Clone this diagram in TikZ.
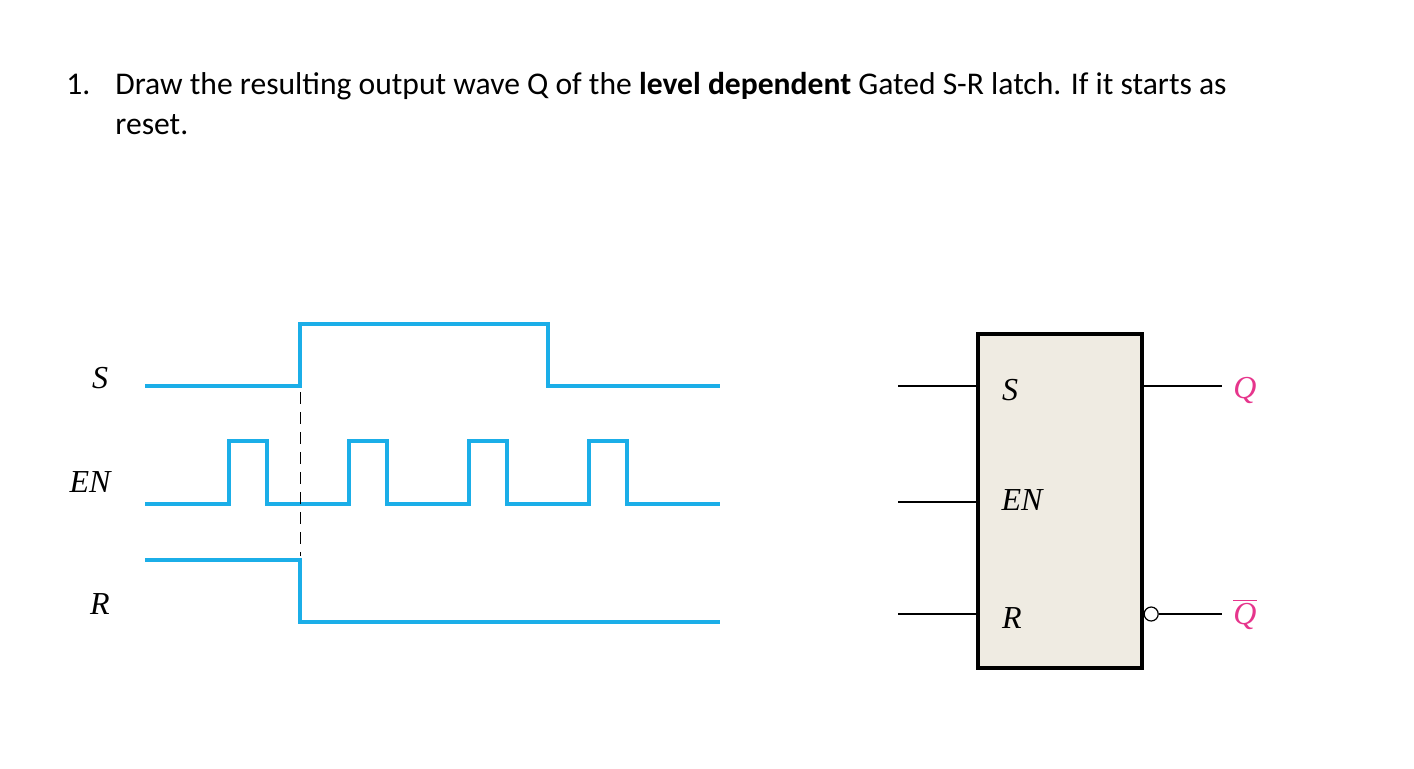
\documentclass[tikz,border=0pt]{standalone}
\usepackage{fontspec}
\setmainfont{Carlito}
\newfontfamily\serifit{Liberation Serif}
\definecolor{wave}{HTML}{1BAEE8}
\definecolor{boxfill}{HTML}{EFEBE2}
\definecolor{qmag}{HTML}{E6358C}
\begin{document}
\begin{tikzpicture}[x=0.5pt,y=-0.5pt,
  wv/.style={wave,line width=1.6pt},
  lbl/.style={font=\serifit\itshape\fontsize{16}{16}\selectfont},
  pin/.style={line width=0.6pt},
  qlbl/.style={font=\serifit\itshape\fontsize{16}{16}\selectfont,text=qmag}]
\useasboundingbox (0,0) rectangle (1414,768);
\node[anchor=base west,font=\fontsize{15.8}{15.8}\selectfont,inner sep=0] (num) at (66,94) {1.};
\node[anchor=base west,font=\fontsize{15.8}{15.8}\selectfont,inner sep=0] (t1) at (115,94) {Draw the resulting output wave Q of the \textbf{level dependent} Gated S-R latch. If it starts as};
\node[anchor=base west,font=\fontsize{15.8}{15.8}\selectfont,inner sep=0] (t2) at (115,134) {reset.};
\node[lbl] (ls) at (100,378) {S};
\node[lbl] (len) at (90,482) {EN};
\node[lbl] (lr) at (100,604) {R};
\draw[wv] (145,386) -- (300,386) -- (300,324) -- (548,324) -- (548,386) -- (720,386);
\draw[wv] (145,504) -- (229,504) -- (229,441) -- (267,441) -- (267,504) -- (349,504) -- (349,441) -- (387,441) -- (387,504) -- (469,504) -- (469,441) -- (507,441) -- (507,504) -- (589,504) -- (589,441) -- (627,441) -- (627,504) -- (720,504);
\draw[wv] (145,560) -- (300,560) -- (300,622) -- (720,622);
\draw[line width=0.5pt,dash pattern=on 6pt off 4pt] (300,392) -- (300,556);
\node[draw,line width=1.6pt,fill=boxfill,minimum width=82pt,minimum height=167pt,inner sep=0] (box) at (1060,501) {};
\node[lbl] (bs) at (1010,390) {S};
\node[lbl] (ben) at (1022,500) {EN};
\node[lbl] (br) at (1012,618) {R};
\coordinate (si) at (898,386); \coordinate (ei) at (898,502); \coordinate (ri) at (898,614);
\draw[pin] (si) -- (si -| box.west);
\draw[pin] (ei) -- (ei -| box.west);
\draw[pin] (ri) -- (ri -| box.west);
\coordinate (qo) at (1222,386); \coordinate (qbo) at (1222,614);
\draw[pin] (qo -| box.east) -- (qo);
\node[circle,draw,line width=0.6pt,fill=white,minimum size=7pt,inner sep=0,anchor=west] (bub) at (qbo -| box.east) {};
\draw[pin] (bub.east) -- (qbo);
\node[qlbl] (q) at (1245,390) {Q};
\node[qlbl] (qb) at (1245,614) {$\overline{\mbox{Q}}$};
\end{tikzpicture}
\end{document}
